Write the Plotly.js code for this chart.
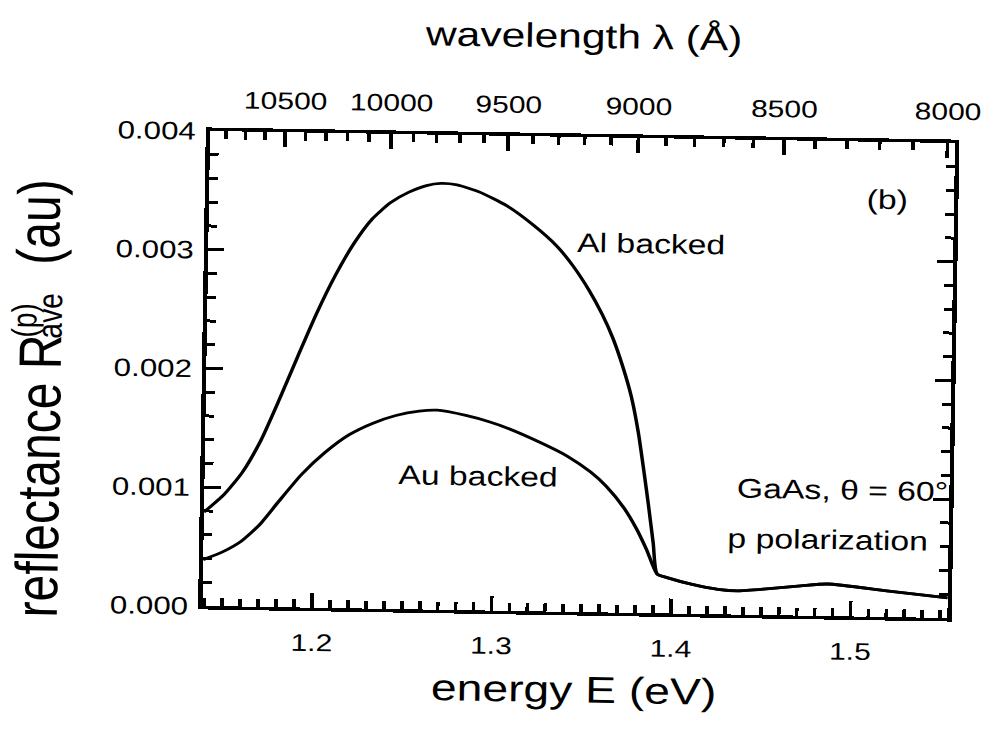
<!DOCTYPE html>
<html>
<head>
<meta charset="utf-8">
<script src="https://cdn.plot.ly/plotly-3.0.1.min.js"></script>
<style>
  html, body { margin: 0; padding: 0; background: #fff; overflow: hidden; }
  #wrap { width: 998px; height: 740px; overflow: hidden; background: #fff; }
  /* slight clockwise tilt of the printed page, about the centre of the plot frame */
  #tilt { width: 998px; height: 740px; transform: rotate(0.93deg); transform-origin: 579px 374.5px; }
  /* the figure is laid out narrow and widened horizontally, like the printed original */
  #chart { width: 798px; height: 740px; transform: scaleX(1.25); transform-origin: 0 0; }
</style>
</head>
<body>
<div id="wrap"><div id="tilt"><div id="chart"></div></div></div>
<script>
// Photon energy (eV) and p-polarised average reflectance, GaAs at 60 degrees
const alEnergy = [1.139, 1.150, 1.160, 1.170, 1.180, 1.190, 1.200, 1.210, 1.220, 1.230,
                  1.240, 1.250, 1.260, 1.268, 1.277, 1.290, 1.305, 1.320, 1.333, 1.342,
                  1.3515, 1.359, 1.3652, 1.371, 1.376, 1.3802, 1.3835, 1.3865, 1.3895, 1.392,
                  1.398, 1.411, 1.426, 1.437, 1.453, 1.472, 1.487, 1.520, 1.554];
const alReflect = [0.00079, 0.00094, 0.00113, 0.00140, 0.00175, 0.00212, 0.00248, 0.00280, 0.00307, 0.00328,
                   0.00342, 0.00351, 0.00357, 0.00359, 0.00358, 0.00352, 0.00341, 0.00325, 0.00308, 0.00292,
                   0.00271, 0.00251, 0.00231, 0.00207, 0.00182, 0.00152, 0.00121, 0.00091, 0.00059, 0.00033,
                   0.00030, 0.00025, 0.00021, 0.00020, 0.00022, 0.00025, 0.00027, 0.00022, 0.00017];

const auEnergy = [1.139, 1.150, 1.160, 1.170, 1.180, 1.193, 1.206, 1.219, 1.232, 1.245,
                  1.258, 1.268, 1.284, 1.297, 1.307, 1.326, 1.341, 1.354, 1.363, 1.373,
                  1.380, 1.386, 1.392,
                  1.398, 1.411, 1.426, 1.437, 1.453, 1.472, 1.487, 1.520, 1.554];
const auReflect = [0.00039, 0.00046, 0.00055, 0.00069, 0.00088, 0.00112, 0.00131, 0.00146, 0.00156, 0.00163,
                   0.00167, 0.00168, 0.00164, 0.00159, 0.00154, 0.00142, 0.00131, 0.00118, 0.00106, 0.00088,
                   0.00071, 0.00053, 0.00033,
                   0.00030, 0.00025, 0.00021, 0.00020, 0.00022, 0.00025, 0.00027, 0.00022, 0.00017];

// Wavelength scale along the top (Angstrom)
const waveMajor = [10500, 10000, 9500, 9000, 8500, 8000];
const waveMinor = [10800, 10700, 10600, 10400, 10300, 10200, 10100, 9900, 9800, 9700, 9600,
                   9400, 9300, 9200, 9100, 8900, 8800, 8700, 8600, 8400, 8300, 8200, 8100];
const waveLabels = waveMajor.map(String);

const HC = 12398.4; // eV * Angstrom
const toEnergy = lam => HC / lam;

const E_RANGE = [1.139, 1.554];
const R_RANGE = [0, 0.004];
const FONT = 'Liberation Sans, Arial, Helvetica, sans-serif';
const INK = '#000';

const lineStyle = { color: INK, width: 2.8, shape: 'spline', smoothing: 0.6 };

const traces = [
  { x: alEnergy, y: alReflect, type: 'scatter', mode: 'lines', name: 'Al backed',
    line: lineStyle, hoverinfo: 'skip' },
  { x: auEnergy, y: auReflect, type: 'scatter', mode: 'lines', name: 'Au backed',
    line: lineStyle, hoverinfo: 'skip' },
  // invisible carrier for the wavelength axis
  { x: [E_RANGE[0]], y: [0], xaxis: 'x2', type: 'scatter', mode: 'markers',
    marker: { opacity: 0 }, showlegend: false, hoverinfo: 'skip' }
];

const tickCommon = {
  ticks: 'inside', tickcolor: INK, tickwidth: 3,
  showline: true, linecolor: INK, linewidth: 3.5,
  showgrid: false, zeroline: false
};

const annFont = { family: FONT, size: 27, color: INK };
const yTitle = (text, x, y, size) => ({
  text, x, y, xref: 'paper', yref: 'paper', xanchor: 'center', yanchor: 'middle',
  textangle: -90, showarrow: false, font: { family: FONT, size, color: INK }
});

const layout = {
  width: 798, height: 740,
  margin: { l: 165, r: 37, t: 137, b: 128 },
  paper_bgcolor: '#fff', plot_bgcolor: '#fff',
  showlegend: false,
  font: { family: FONT, color: INK, size: 24 },
  xaxis: Object.assign({}, tickCommon, {
    range: E_RANGE, tickmode: 'linear', tick0: 1.2, dtick: 0.1, tickformat: '.1f',
    ticklen: 15, tickfont: { size: 24 }, ticklabelstandoff: 11,
    minor: { ticks: 'inside', tick0: 1.2, dtick: 0.01, ticklen: 8, tickwidth: 3, tickcolor: INK, showgrid: false },
    title: { text: 'energy E (eV)', font: { size: 37 }, standoff: 18 }
  }),
  xaxis2: Object.assign({}, tickCommon, {
    overlaying: 'x', side: 'top', anchor: 'y',
    range: E_RANGE, tickmode: 'array',
    tickvals: waveMajor.map(toEnergy), ticktext: waveLabels,
    ticklen: 15, tickfont: { size: 24 }, ticklabelstandoff: 10,
    minor: { ticks: 'inside', tickmode: 'array', tickvals: waveMinor.map(toEnergy),
             ticklen: 8, tickwidth: 3, tickcolor: INK, showgrid: false },
    title: { text: 'wavelength λ (Å)', font: { size: 34 }, standoff: 34 }
  }),
  yaxis: Object.assign({}, tickCommon, {
    range: R_RANGE, tickmode: 'linear', tick0: 0, dtick: 0.001, tickformat: '.3f',
    mirror: 'ticks', ticklen: 13, tickfont: { size: 25 }, ticklabelstandoff: 3,
    minor: { ticks: 'inside', dtick: 0.0002, ticklen: 7, tickwidth: 3, tickcolor: INK, showgrid: false }
  }),
  annotations: [
    { text: 'Al backed', x: 1.386, y: 0.00311, xref: 'x', yref: 'y', showarrow: false, font: annFont },
    { text: 'Au backed', x: 1.2914, y: 0.00113, xref: 'x', yref: 'y', showarrow: false, font: annFont },
    { text: '(b)', x: 1.5164, y: 0.00351, xref: 'x', yref: 'y', showarrow: false, font: annFont },
    { text: 'GaAs, θ = 60°', x: 1.552, y: 0.00106, xref: 'x', yref: 'y', xanchor: 'right', xshift: 4,
      showarrow: false, font: annFont },
    { text: 'p polarization', x: 1.4865, y: 0.00064, xref: 'x', yref: 'y', showarrow: false, font: annFont },
    // vertical axis title, with the stacked super/subscript on R
    yTitle('reflectance R', -0.2225, 0.268, 48),
    yTitle('(p)', -0.2441, 0.5937, 28),
    yTitle('ave', -0.2107, 0.605, 28),
    yTitle('(au)', -0.2271, 0.8026, 48)
  ]
};

Plotly.newPlot('chart', traces, layout, { staticPlot: true, displayModeBar: false });
</script>
</body>
</html>
